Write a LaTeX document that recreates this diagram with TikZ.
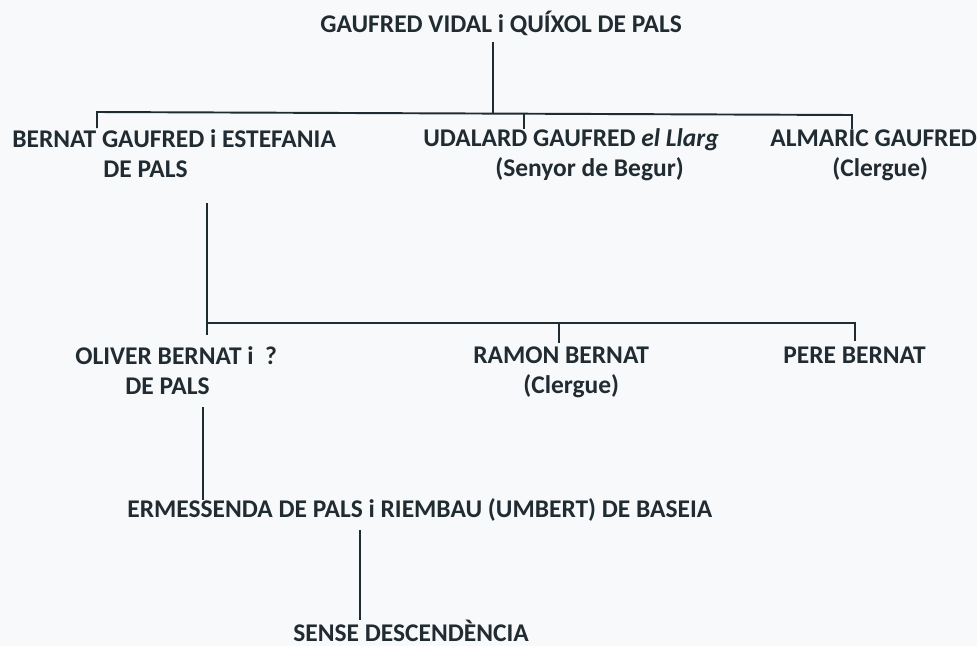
\documentclass[tikz,border=0pt]{standalone}
\usepackage{fontspec}
\setmainfont{Carlito}
\usepackage{tikz}
\definecolor{ink}{RGB}{33,43,50}
\definecolor{paper}{RGB}{247,249,251}
\tikzstyle{person}=[anchor=base west,inner sep=0pt,align=left,text=ink,font=\fontsize{14.5}{17}\selectfont\bfseries]
\tikzstyle{link}=[draw=ink,line width=1.1pt]

\begin{document}
\begin{tikzpicture}[x=0.02cm,y=-0.02cm]

  \fill[paper] (0,0) rectangle (977,646);
  \useasboundingbox (0,0) rectangle (977,646);

  \node[person] (G) at (320,32) {GAUFRED VIDAL i QUÍXOL DE PALS};
  \node[person] (B) at (12,177) {BERNAT GAUFRED i ESTEFANIA\\\hspace*{1.82cm}DE PALS};
  \node[person] (U) at (423,176) {UDALARD GAUFRED \textit{el Llarg}\\\hspace*{1.44cm}(Senyor de Begur)};
  \node[person] (A) at (770,176) {ALMARIC GAUFRED\\\hspace*{1.24cm}(Clergue)};
  \node[person] (O) at (75,394) {OLIVER BERNAT i\ \ ?\\\hspace*{1cm}DE PALS};
  \node[person] (R) at (473,393) {RAMON BERNAT\\\hspace*{1cm}(Clergue)};
  \node[person] (P) at (783,363) {PERE BERNAT};
  \node[person] (E) at (127,517) {ERMESSENDA DE PALS i RIEMBAU (UMBERT) DE BASEIA};
  \node[person] (S) at (293,641) {SENSE DESCENDÈNCIA};

  % fills de Gaufred
  \coordinate (g0) at (493,42);
  \coordinate (g1) at (493,113);
  \coordinate (gB) at (97,112);
  \coordinate (gA) at (852,115);
  \coordinate (tB) at (97,128);
  \coordinate (tU) at (524,129);
  \coordinate (tA) at (852,129);
  \draw[link] (g0)--(g1);
  \draw[link] (tB)--(gB)--(gA)--(tA);
  \draw[link] (tU |- g1)--(tU);

  % fills de Bernat
  \coordinate (b0) at (207,203);
  \coordinate (b1) at (207,335);
  \coordinate (bP) at (855,323);
  \coordinate (tR) at (559,343);
  \coordinate (tP) at (855,341);
  \draw[link] (b0)--(b1);
  \draw[link] (b1 |- bP)--(bP)--(tP);
  \draw[link] (tR |- bP)--(tR);

  % descendencia
  \coordinate (o0) at (203,407);
  \coordinate (o1) at (203,500);
  \coordinate (e0) at (360,530);
  \coordinate (e1) at (360,620);
  \draw[link] (o0)--(o1);
  \draw[link] (e0)--(e1);

\end{tikzpicture}
\end{document}
